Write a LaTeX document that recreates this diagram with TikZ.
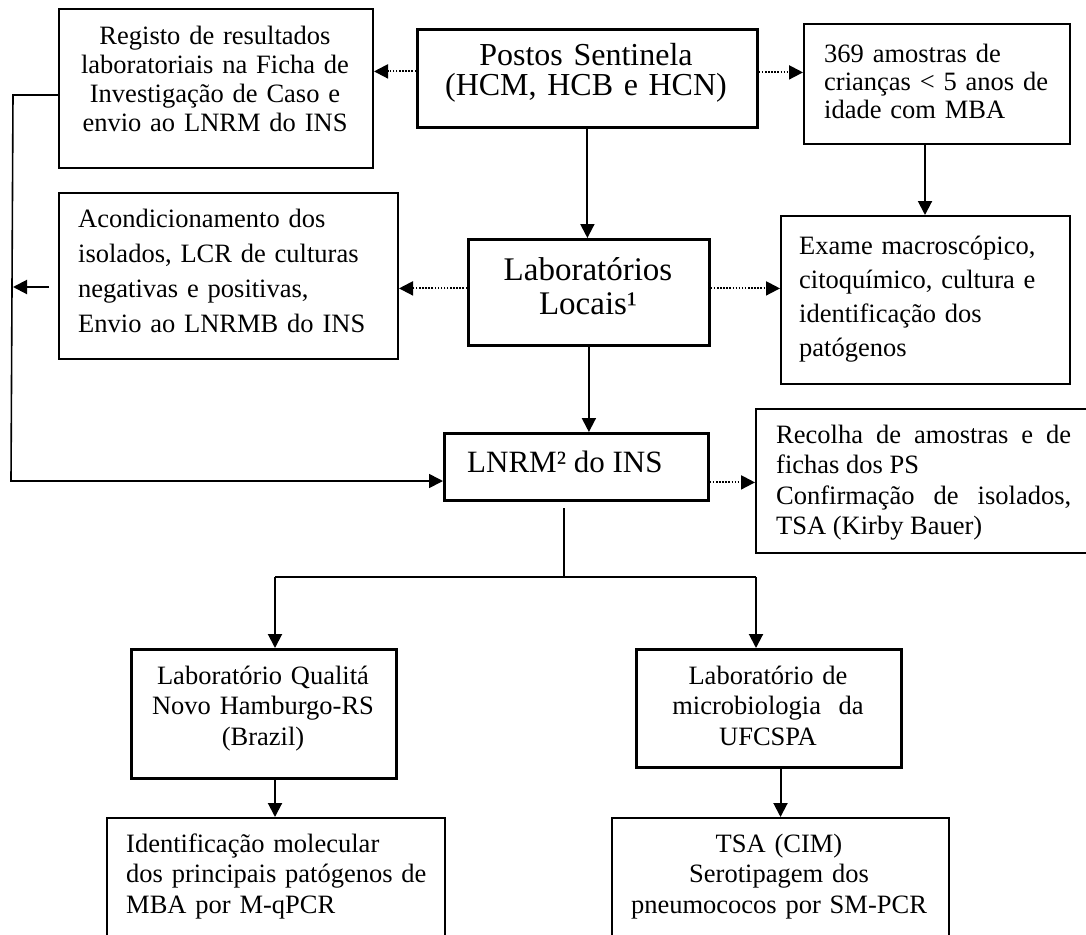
\documentclass[tikz,border=0pt]{standalone}
\usepackage{fontspec}
\setmainfont{Liberation Serif}
\usetikzlibrary{arrows.meta}
\begin{document}
\begin{tikzpicture}[x=1pt,y=-1pt,
  thinbox/.style={draw, line width=2pt, anchor=north west, inner sep=0pt},
  thickbox/.style={draw, line width=2.8pt, anchor=north west, inner sep=0pt},
  body/.style={inner sep=0pt, font=\fontsize{26.5}{#1}\selectfont},
  flow/.style={line width=2pt, -{Triangle[length=14pt,width=14pt]}},
  thinflow/.style={line width=1.6pt, -{Triangle[length=14pt,width=14pt]}},
  dots/.style={flow, dash pattern=on 1.5pt off 1.6pt},
  plain/.style={line width=2pt},
]
\useasboundingbox (0,0) rectangle (1086,934);
\clip (0,0) rectangle (1086,934);
\fill[white] (0,0) rectangle (1086,934);

% boxes
\node[thinbox, minimum width=314pt, minimum height=159pt] (reg) at (58,8) {};
\node[thickbox, minimum width=340pt, minimum height=98pt] (postos) at (416,28) {};
\node[thinbox, minimum width=266pt, minimum height=120pt] (n369) at (803,23) {};
\node[thinbox, minimum width=339pt, minimum height=166pt] (acond) at (58,192) {};
\node[thickbox, minimum width=241pt, minimum height=106pt] (lab) at (467,238) {};
\node[thinbox, minimum width=289pt, minimum height=168pt] (exame) at (780,215) {};
\node[thickbox, minimum width=264pt, minimum height=67pt] (lnrm) at (443,432) {};
\node[thinbox, minimum width=345pt, minimum height=144pt] (recolha) at (755,408) {};
\node[thickbox, minimum width=265pt, minimum height=129pt] (qual) at (130,648) {};
\node[thinbox, minimum width=338pt, minimum height=140pt] (ident) at (106,817) {};
\node[thickbox, minimum width=265pt, minimum height=118pt] (ufc) at (635,648) {};
\node[thinbox, minimum width=337pt, minimum height=140pt] (tsa) at (611,817) {};

% texts
\node[body=28.7, text width=300pt, align=center, anchor=base] (treg) at (215,45)
  {Registo de resultados\\laboratoriais na Ficha de\\Investigação de Caso e\\envio ao LNRM do INS};
\node[inner sep=0pt, font=\fontsize{32}{31}\selectfont, text width=330pt, align=center, anchor=base] (tpos) at (586,65)
  {Postos Sentinela\\(HCM, HCB e HCN)};
\node[body=27.5, text width=240pt, align=left, anchor=base west] (t369) at (824,63)
  {369 amostras de\\crianças < 5 anos de\\idade com MBA};
\node[body=35.3, text width=310pt, align=left, anchor=base west] (tacond) at (78,227)
  {Acondicionamento dos\\isolados, LCR de culturas\\negativas e positivas,\\Envio ao LNRMB do INS};
\node[inner sep=0pt, font=\fontsize{33}{34}\selectfont, text width=230pt, align=center, anchor=base] (tlab) at (588,280)
  {Laboratórios\\Locais¹};
\node[body=34, text width=265pt, align=left, anchor=base west] (texame) at (799,254)
  {Exame macroscópico,\\citoquímico, cultura e\\identificação dos\\patógenos};
\node[inner sep=0pt, font=\fontsize{31}{34}\selectfont, anchor=base west] (tlnrm) at (467,472)
  {LNRM² do INS};
\node[body=30.5, text width=295pt, align=justify, anchor=base west] (trec) at (776,443)
  {Recolha de amostras e de\linebreak fichas dos PS\par Confirmação de isolados,\linebreak TSA (Kirby Bauer)};
\node[body=30.5, text width=260pt, align=center, anchor=base] (tqual) at (263,684)
  {Laboratório Qualitá\\Novo Hamburgo-RS\\(Brazil)};
\node[body=30.5, text width=260pt, align=center, anchor=base] (tufc) at (768,684)
  {Laboratório de\\microbiologia\ \ da\\UFCSPA};
\node[body=30.5, text width=320pt, align=left, anchor=base west] (tident) at (126,852)
  {Identificação molecular\\dos principais patógenos de\\MBA por M-qPCR};
\node[body=30.5, text width=330pt, align=center, anchor=base] (ttsa) at (779,852)
  {TSA (CIM)\\Serotipagem dos\\pneumococos por SM-PCR};

% helper coordinates
\coordinate (L1) at (13,95);
\coordinate (L2) at (11,481);
\coordinate (A1) at (49,287);
\coordinate (B) at (564,577);
\coordinate (BL) at (275,577);
\coordinate (BR) at (756,577);

% connectors
\draw[dots] ([yshift=7pt]postos.west) -- ([yshift=7pt]postos.west -| reg.east);
\draw[dots] ([yshift=6pt]postos.east) -- ([yshift=6pt]postos.east -| n369.west);
\draw[flow] ([xshift=-12pt]n369.south) -- ([xshift=-12pt]n369.south |- exame.north);
\draw[flow] (postos.south) -- (postos.south |- lab.north);
\draw[dots] ([yshift=4pt]lab.west) -- ([yshift=4pt]lab.west -| acond.east);
\draw[dots] ([yshift=4pt]lab.east) -- ([yshift=4pt]lab.east -| exame.west);
\draw[flow] (lab.south) -- (lab.south |- lnrm.north);
\draw[dots] ([yshift=-15.5pt]lnrm.east) -- ([yshift=-15.5pt]lnrm.east -| recolha.west);
\draw[thinflow] (L1 -| reg.west) -- (L1) -- (L2) -- (L2 -| lnrm.west);
\draw[flow] (A1) -- (A1 -| L1);
\draw[plain, shorten >=6pt] (B) -- (B |- lnrm.south);
\draw[plain] (BL) -- (BR);
\draw[flow] (BL) -- (BL |- qual.north);
\draw[flow] (BR) -- (BR |- ufc.north);
\draw[flow] (BL |- qual.south) -- (BL |- ident.north);
\draw[flow] (tsa.north |- ufc.south) -- (tsa.north);
\end{tikzpicture}
\end{document}
